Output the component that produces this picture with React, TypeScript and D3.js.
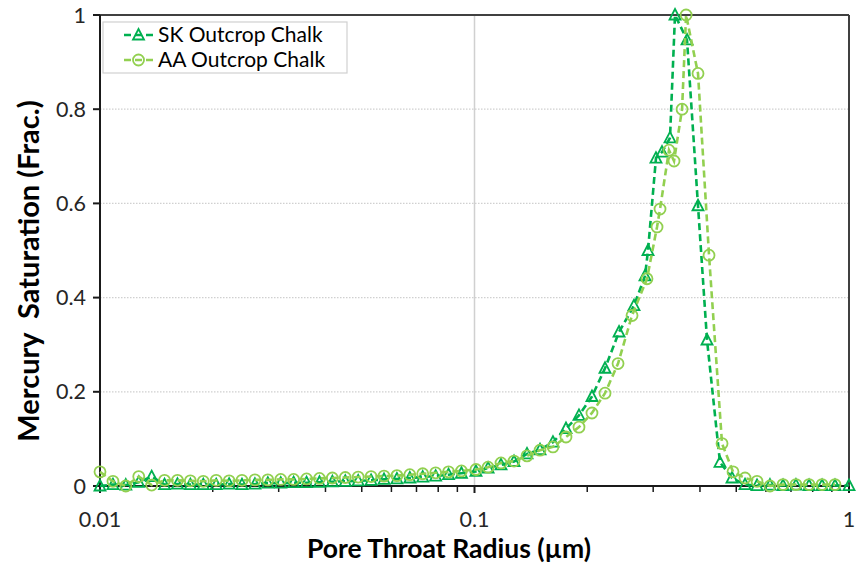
import React from "react";
import * as d3 from "d3";

const skRadius = [0.01, 0.01083, 0.01172, 0.01269, 0.01374, 0.01487, 0.0161, 0.01743, 0.01887, 0.02043, 0.02212, 0.02394, 0.02592, 0.02806, 0.03038, 0.03289, 0.03561, 0.03855, 0.04173, 0.04518, 0.04891, 0.05295, 0.05733, 0.06206, 0.06719, 0.07274, 0.07875, 0.08525, 0.09229, 0.1009, 0.1087, 0.1177, 0.1275, 0.1381, 0.1496, 0.162, 0.1755, 0.1901, 0.2059, 0.2231, 0.2432, 0.2666, 0.2853, 0.2906, 0.3052, 0.3168, 0.3327, 0.3431, 0.3694, 0.3952, 0.4177, 0.4524, 0.4871, 0.5277, 0.568, 0.6152, 0.6665, 0.7218, 0.7822, 0.8473, 0.9175, 1.0];
const skSaturation = [0, 0.003, 0.002, 0.008, 0.02, 0.003, 0.004, 0.003, 0.003, 0.003, 0.004, 0.003, 0.004, 0.006, 0.006, 0.007, 0.007, 0.008, 0.009, 0.01, 0.011, 0.012, 0.014, 0.015, 0.017, 0.019, 0.021, 0.024, 0.027, 0.031, 0.038, 0.045, 0.052, 0.068, 0.077, 0.093, 0.122, 0.15, 0.19, 0.25, 0.327, 0.383, 0.446, 0.5, 0.696, 0.709, 0.739, 1.0, 0.947, 0.595, 0.31, 0.05, 0.017, 0.003, 0.001, 0.002, 0.001, 0.002, 0.001, 0.001, 0.001, 0.001];

const aaRadius = [0.01, 0.01083, 0.01172, 0.01269, 0.01374, 0.01487, 0.0161, 0.01743, 0.01887, 0.02043, 0.02212, 0.02394, 0.02592, 0.02806, 0.03038, 0.03289, 0.03561, 0.03855, 0.04173, 0.04518, 0.04891, 0.05295, 0.05733, 0.06206, 0.06719, 0.07274, 0.07875, 0.08525, 0.09229, 0.1009, 0.1087, 0.1177, 0.1275, 0.1381, 0.1496, 0.162, 0.1755, 0.1901, 0.2059, 0.2231, 0.2417, 0.2634, 0.2888, 0.3072, 0.3129, 0.3306, 0.341, 0.3583, 0.3673, 0.3952, 0.4229, 0.4581, 0.4901, 0.5277, 0.568, 0.6152, 0.6665, 0.7218, 0.7822, 0.8473, 0.9175];
const aaSaturation = [0.03, 0.01, 0.0, 0.02, 0.002, 0.012, 0.012, 0.011, 0.01, 0.012, 0.011, 0.012, 0.013, 0.013, 0.014, 0.014, 0.015, 0.016, 0.017, 0.018, 0.019, 0.02, 0.021, 0.022, 0.024, 0.026, 0.028, 0.03, 0.032, 0.035, 0.04, 0.049, 0.053, 0.064, 0.076, 0.083, 0.104, 0.125, 0.155, 0.197, 0.26, 0.362, 0.44, 0.55, 0.588, 0.713, 0.69, 0.8, 1.0, 0.876, 0.49, 0.09, 0.03, 0.017, 0.01, 0.0, 0.003, 0.003, 0.003, 0.003, 0.003];

const seriesNames = ["SK Outcrop Chalk", "AA Outcrop Chalk"];
const xTickValues = [0.01, 0.1, 1];
const xTickLabels = ["0.01", "0.1", "1"];
const yTickValues = [0, 0.2, 0.4, 0.6, 0.8, 1];
const yTickLabels = ["0", "0.2", "0.4", "0.6", "0.8", "1"];
const xTitle = "Pore Throat Radius (µm)";
const yTitle = "Mercury\u00A0 Saturation (Frac.)";

const SK_COLOR = "#00B050";
const AA_COLOR = "#92D050";
const FONT = "Lato, 'Open Sans', sans-serif";

const W = 860, H = 568;
const L = 100, R = 849, T = 15, B = 486;

export default function App() {
  const x = d3.scaleLog().domain([0.01, 1]).range([L, R]);
  const y = d3.scaleLinear().domain([0, 1]).range([B, T]);

  const sk = skRadius.map((r, i) => [r, skSaturation[i]] as [number, number]);
  const aa = aaRadius.map((r, i) => [r, aaSaturation[i]] as [number, number]);
  const line = d3.line<[number, number]>().x(d => x(d[0])).y(d => y(d[1]));

  const minorTicks: number[] = [];
  [0.01, 0.1].forEach(dec => {
    for (let m = 2; m <= 9; m++) minorTicks.push(dec * m);
  });

  const tri = (cx: number, cy: number, key: string | number, color: string) => (
    <path key={key} d={`M${cx},${cy - 6}L${cx + 5.5},${cy + 4.5}L${cx - 5.5},${cy + 4.5}Z`} fill="none" stroke={color} strokeWidth={1.8} />
  );
  const circ = (cx: number, cy: number, key: string | number, color: string) => (
    <circle key={key} cx={cx} cy={cy} r={5.5} fill="none" stroke={color} strokeWidth={1.8} />
  );

  return (
    <svg width={W} height={H} style={{ position: "absolute", left: 0, top: 0, background: "#fff" }} fontFamily={FONT}>
      <rect x={0} y={0} width={W} height={H} fill="#fff" />
      {/* gridlines */}
      {yTickValues.filter(v => v > 0 && v < 1).map(v => (
        <line key={"gy" + v} x1={L} x2={R} y1={y(v)} y2={y(v)} stroke="#D0D0D0" strokeWidth={1.2} strokeDasharray="1.5,1.5" />
      ))}
      <line x1={x(0.1)} x2={x(0.1)} y1={T} y2={B} stroke="#D0D0D0" strokeWidth={1.5} />
      {/* frame */}
      <line x1={L} x2={R} y1={T} y2={T} stroke="#404040" strokeWidth={2} />
      <line x1={R} x2={R} y1={T} y2={B} stroke="#404040" strokeWidth={2} />
      {/* axes */}
      <line x1={L} x2={L} y1={T} y2={B} stroke="#1a1a1a" strokeWidth={2} />
      <line x1={L} x2={R} y1={B} y2={B} stroke="#1a1a1a" strokeWidth={2} />
      {yTickValues.map(v => (
        <line key={"ty" + v} x1={L - 7} x2={L} y1={y(v)} y2={y(v)} stroke="#1a1a1a" strokeWidth={2} />
      ))}
      {xTickValues.map(v => (
        <line key={"tx" + v} x1={x(v)} x2={x(v)} y1={B} y2={B + 7} stroke="#1a1a1a" strokeWidth={2} />
      ))}
      {minorTicks.map(v => (
        <line key={"mx" + v} x1={x(v)} x2={x(v)} y1={B} y2={B + 6} stroke="#1a1a1a" strokeWidth={1.5} />
      ))}
      {/* tick labels */}
      {yTickValues.map((v, i) => (
        <text key={"ly" + v} x={L - 14} y={y(v)} dy="0.35em" textAnchor="end" fontSize={21.5} fill="#262626">{yTickLabels[i]}</text>
      ))}
      {xTickValues.map((v, i) => (
        <text key={"lx" + v} x={x(v)} y={B + 33} dy="0.35em" textAnchor="middle" fontSize={21.5} fill="#262626">{xTickLabels[i]}</text>
      ))}
      {/* titles */}
      <text x={449} y={558} textAnchor="middle" fontSize={26.5} fontWeight="bold" fill="#000">{xTitle}</text>
      <text transform={`translate(39,271) rotate(-90)`} textAnchor="middle" fontSize={29} fontWeight="bold" fill="#000">{yTitle}</text>
      {/* series */}
      <path d={line(sk) || ""} fill="none" stroke={SK_COLOR} strokeWidth={2.6} strokeDasharray="7,4" />
      {sk.map((d, i) => tri(x(d[0]), y(d[1]), "s" + i, SK_COLOR))}
      <path d={line(aa) || ""} fill="none" stroke={AA_COLOR} strokeWidth={2.6} strokeDasharray="7,4" />
      {aa.map((d, i) => circ(x(d[0]), y(d[1]), "a" + i, AA_COLOR))}
      {/* legend */}
      <rect x={103} y={22} width={244} height={51} fill="#fff" stroke="#D0D0D0" strokeWidth={1.2} />
      <line x1={124} x2={153} y1={35} y2={35} stroke={SK_COLOR} strokeWidth={2.6} strokeDasharray="7,4" />
      {tri(138.5, 35, "lt", SK_COLOR)}
      <text x={158} y={35} dy="0.35em" fontSize={21} fill="#000">{seriesNames[0]}</text>
      <line x1={124} x2={153} y1={60} y2={60} stroke={AA_COLOR} strokeWidth={2.6} strokeDasharray="7,4" />
      {circ(138.5, 60, "lc", AA_COLOR)}
      <text x={158} y={60} dy="0.35em" fontSize={21} fill="#000">{seriesNames[1]}</text>
    </svg>
  );
}
